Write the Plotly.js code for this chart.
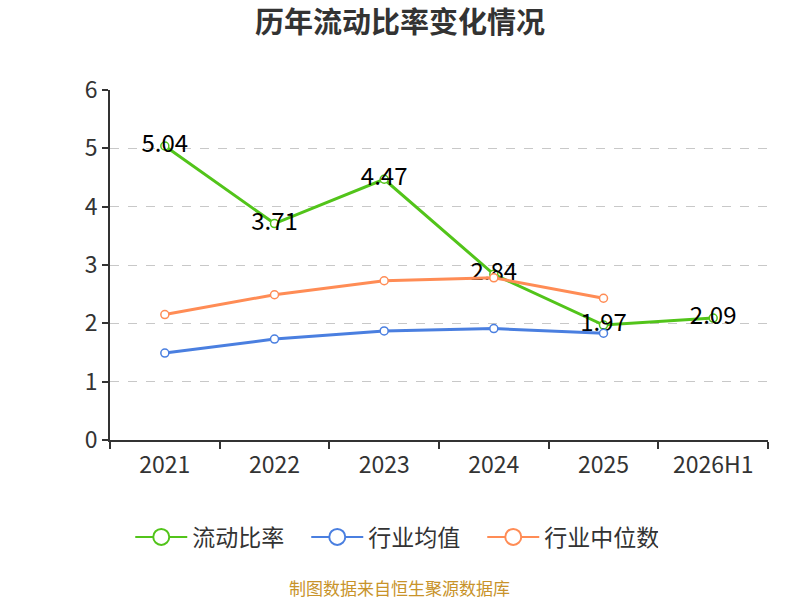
<!DOCTYPE html>
<html>
<head>
<meta charset="utf-8">
<script src="https://cdn.plot.ly/plotly-3.0.1.min.js"></script>
<style>
  html, body { margin: 0; padding: 0; background: #fff; }
  #chart { width: 800px; height: 600px; }
</style>
</head>
<body>
<div id="chart"></div>
<script>
const years = ['2021', '2022', '2023', '2024', '2025', '2026H1'];
const currentRatio = [5.04, 3.71, 4.47, 2.84, 1.97, 2.09];
const industryAvg = [1.49, 1.73, 1.87, 1.91, 1.83];
const industryMedian = [2.15, 2.49, 2.73, 2.78, 2.43];
const yTicks = [0, 1, 2, 3, 4, 5, 6];

const seriesNames = ['流动比率', '行业均值', '行业中位数'];
const seriesColors = ['#52c41a', '#4a7fe0', '#ff8c55'];

const fontFamily = '"Noto Sans CJK SC", "Noto Sans", sans-serif';

function series(name, y, color, withText) {
  return {
    x: years.slice(0, y.length),
    y: y,
    name: name,
    type: 'scatter',
    mode: withText ? 'lines+markers+text' : 'lines+markers',
    text: withText ? y.map(v => v.toFixed(2)) : undefined,
    textposition: 'middle center',
    textfont: { size: 24, color: '#000', family: fontFamily },
    line: { color: color, width: 3 },
    marker: { size: 8, color: '#fff', line: { color: color, width: 1.5 } },
    cliponaxis: false,
    showlegend: false
  };
}

// legend-only entries with bigger open circles
function legendEntry(name, color) {
  return {
    x: [null],
    y: [null],
    name: name,
    type: 'scatter',
    mode: 'lines+markers',
    line: { color: color, width: 2 },
    marker: { size: 16, color: '#fff', line: { color: color, width: 2 } },
    hoverinfo: 'skip'
  };
}

const data = [
  series(seriesNames[0], currentRatio, seriesColors[0], true),
  series(seriesNames[1], industryAvg, seriesColors[1], false),
  series(seriesNames[2], industryMedian, seriesColors[2], false)
].concat(seriesNames.map((n, i) => legendEntry(n, seriesColors[i])));

const layout = {
  width: 800,
  height: 600,
  margin: { l: 110, r: 32, t: 90, b: 160 },
  paper_bgcolor: '#fff',
  plot_bgcolor: '#fff',
  font: { family: fontFamily, color: '#333' },
  title: {
    text: '<b>历年流动比率变化情况</b>',
    x: 0.5,
    xanchor: 'center',
    y: 0.962,
    yanchor: 'middle',
    font: { size: 29, color: '#333', family: fontFamily }
  },
  xaxis: {
    type: 'category',
    range: [-0.5, 5.5],
    tickson: 'boundaries',
    ticks: 'outside',
    ticklen: 7,
    tickwidth: 1.5,
    tickcolor: '#333',
    ticklabelstandoff: 3,
    showline: true,
    linecolor: '#333',
    linewidth: 2,
    showgrid: false,
    tickfont: { size: 23, color: '#333' },
    fixedrange: true
  },
  yaxis: {
    range: [0, 6],
    tickvals: yTicks,
    ticks: 'outside',
    ticklen: 6,
    tickwidth: 1.5,
    tickcolor: '#333',
    showline: true,
    linecolor: '#333',
    linewidth: 2,
    showgrid: true,
    gridcolor: '#c8c8c8',
    griddash: 'dash',
    gridwidth: 1,
    zeroline: false,
    tickfont: { size: 23, color: '#333' },
    fixedrange: true
  },
  showlegend: true,
  legend: {
    orientation: 'h',
    x: 0.432,
    xanchor: 'center',
    y: -0.277,
    yanchor: 'middle',
    font: { size: 23, color: '#333' },
    itemwidth: 52,
    entrywidth: 109,
    itemclick: false,
    itemdoubleclick: false
  },
  annotations: [{
    text: '制图数据来自恒生聚源数据库',
    xref: 'paper',
    yref: 'paper',
    x: 0.44,
    xanchor: 'center',
    y: -0.42,
    yanchor: 'middle',
    showarrow: false,
    font: { size: 17, color: '#c8932a', family: fontFamily }
  }]
};

Plotly.newPlot('chart', data, layout, { displayModeBar: false });
</script>
</body>
</html>
